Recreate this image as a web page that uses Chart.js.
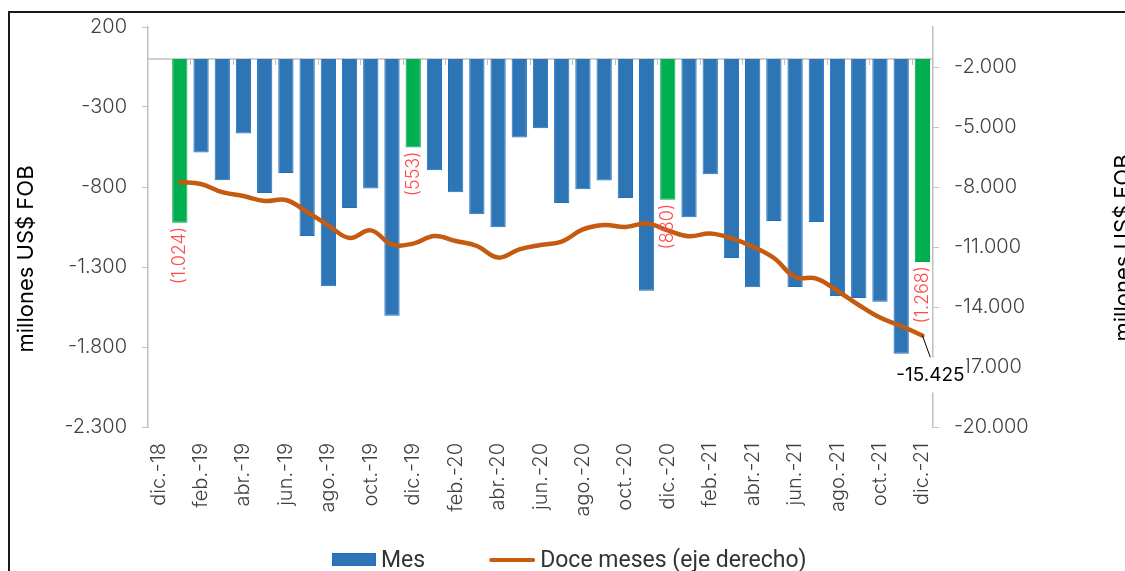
<!DOCTYPE html>
<html>
<head>
<meta charset="utf-8">
<script src="https://cdn.jsdelivr.net/npm/chart.js@4.4.0/dist/chart.umd.min.js"></script>
<style>
html, body { margin: 0; padding: 0; background: #fff; overflow: hidden; }
</style>
</head>
<body>
<canvas id="balanza" width="1125" height="571"></canvas>
<script>
var meses = [
    "dic.-18",
    "ene.-19", "feb.-19", "mar.-19", "abr.-19", "may.-19", "jun.-19", "jul.-19", "ago.-19", "sep.-19", "oct.-19", "nov.-19", "dic.-19",
    "ene.-20", "feb.-20", "mar.-20", "abr.-20", "may.-20", "jun.-20", "jul.-20", "ago.-20", "sep.-20", "oct.-20", "nov.-20", "dic.-20",
    "ene.-21", "feb.-21", "mar.-21", "abr.-21", "may.-21", "jun.-21", "jul.-21", "ago.-21", "sep.-21", "oct.-21", "nov.-21", "dic.-21"
];
var mensual = [null, -1024, -585, -758, -466, -837, -712, -1106, -1421, -931, -810, -1604, -553,
    -696, -833, -971, -1052, -491, -433, -900, -814, -760, -869, -1448, -880,
    -989, -721, -1244, -1427, -1012, -1425, -1019, -1481, -1494, -1517, -1842, -1268];
var doceMeses = [null, -7750, -7850, -8260, -8450, -8700, -8650, -9250, -9920, -10550, -10170, -10870, -10830,
    -10450, -10700, -10950, -11530, -11120, -10900, -10730, -10120, -9900, -10000, -9830, -10170,
    -10460, -10330, -10570, -10980, -11550, -12500, -12580, -13200, -13900, -14530, -14950, -15425];
var resaltados = [1, 12, 24, 36];
var ticksIzq = [-2300, -1800, -1300, -800, -300, 200];
var ticksDer = [-20000, -17000, -14000, -11000, -8000, -5000, -2000];

var azul = "#2e75b6";
var verde = "#00b050";
var naranja = "#c55a11";
var gris = "#bfbfbf";
var fuente = "Inter, 'Noto Sans', sans-serif";

var fmt = function (v) {
    var s = Math.abs(Math.round(v)).toString().replace(/\B(?=(\d{3})+(?!\d))/g, ".");
    return (v < 0 ? "-" : "") + s;
};

var coloresBarras = mensual.map(function (v, i) { return resaltados.indexOf(i) >= 0 ? verde : azul; });
var bordesBarras = mensual.map(function (v, i) { return resaltados.indexOf(i) >= 0 ? "#00a84a" : "#1c6fc2"; });

var extras = {
    id: "extras",
    beforeDraw: function (chart) {
        var ctx = chart.ctx;
        ctx.save();
        ctx.fillStyle = "#fff";
        ctx.fillRect(0, 0, chart.width, chart.height);
        ctx.strokeStyle = "#1a1a1a";
        ctx.lineWidth = 2;
        ctx.strokeRect(9, 12, chart.width + 20, chart.height + 20);
        ctx.restore();
    },
    beforeDatasetsDraw: function (chart) {
        var ctx = chart.ctx;
        var xs = chart.scales.x;
        var y0 = chart.scales.y.getPixelForValue(0);
        var area = chart.chartArea;
        ctx.save();
        ctx.strokeStyle = gris;
        ctx.lineWidth = 1.5;
        ctx.beginPath();
        ctx.moveTo(area.left, y0);
        ctx.lineTo(area.right, y0);
        ctx.stroke();
        ctx.lineWidth = 1;
        for (var n = 2; n < meses.length; n += 2) {
            var bx = Math.round((xs.getPixelForValue(n - 1) + xs.getPixelForValue(n)) / 2) + 0.5;
            ctx.beginPath();
            ctx.moveTo(bx, y0);
            ctx.lineTo(bx, y0 + 6);
            ctx.stroke();
        }
        ctx.restore();
    },
    afterDatasetsDraw: function (chart) {
        var ctx = chart.ctx;
        var barras = chart.getDatasetMeta(0).data;
        var puntos = chart.getDatasetMeta(1).data;
        ctx.save();
        // etiquetas rojas de diciembre
        ctx.fillStyle = "#ff4b4b";
        ctx.font = "300 18px " + fuente;
        ctx.textAlign = "right";
        ctx.textBaseline = "middle";
        resaltados.forEach(function (i) {
            var b = barras[i];
            ctx.save();
            ctx.translate(b.x, b.y + 4);
            ctx.rotate(-Math.PI / 2);
            ctx.fillText("(" + fmt(-mensual[i]) + ")", 0, 0);
            ctx.restore();
        });
        // último valor doce meses
        var last = doceMeses.length - 1;
        var p = puntos[last];
        ctx.strokeStyle = "#000";
        ctx.lineWidth = 1;
        ctx.beginPath();
        ctx.moveTo(p.x, p.y);
        ctx.lineTo(p.x + 8, p.y + 22);
        ctx.stroke();
        ctx.font = "19px " + fuente;
        var txt = fmt(doceMeses[last]);
        var w = ctx.measureText(txt).width;
        ctx.fillStyle = "#fff";
        ctx.fillRect(p.x + 8 - w / 2 - 2, p.y + 22, w + 4, 35);
        ctx.fillStyle = "#000";
        ctx.textAlign = "center";
        ctx.fillText(txt, p.x + 8, p.y + 40);
        ctx.restore();
    },
    afterDraw: function (chart) {
        var ctx = chart.ctx;
        var ds = chart.data.datasets;
        ctx.save();
        // títulos de ejes
        ctx.fillStyle = "#000";
        ctx.font = "22px " + fuente;
        ctx.textAlign = "center";
        ctx.textBaseline = "middle";
        [[26, 259], [1123, 248]].forEach(function (pos) {
            ctx.save();
            ctx.translate(pos[0], pos[1]);
            ctx.rotate(-Math.PI / 2);
            ctx.fillText("millones US$ FOB", 0, 0);
            ctx.restore();
        });
        // leyenda
        var ly = 560;
        var x = 332;
        ctx.font = "23px Roboto, sans-serif";
        ctx.textAlign = "left";
        ctx.fillStyle = azul;
        ctx.fillRect(x, ly - 7, 44, 13);
        ctx.strokeStyle = "#1c6fc2";
        ctx.lineWidth = 1;
        ctx.strokeRect(x + 0.5, ly - 6.5, 43, 12);
        x += 49;
        ctx.fillStyle = "#333";
        ctx.fillText(ds[0].label, x, ly + 1);
        x += ctx.measureText(ds[0].label).width + 64;
        ctx.strokeStyle = naranja;
        ctx.lineWidth = 4;
        ctx.lineCap = "round";
        ctx.beginPath();
        ctx.moveTo(x + 2, ly);
        ctx.lineTo(x + 44, ly);
        ctx.stroke();
        x += 51;
        ctx.fillText(ds[1].label, x, ly + 1);
        ctx.restore();
    }
};

var ctx = document.getElementById("balanza").getContext("2d");
var grafico = new Chart(ctx, {
    type: "bar",
    data: {
        labels: meses,
        datasets: [
            {
                label: "Mes",
                data: mensual,
                yAxisID: "y",
                backgroundColor: coloresBarras,
                borderColor: bordesBarras,
                borderWidth: 1,
                barPercentage: 0.72,
                categoryPercentage: 1,
                order: 2,
            },
            {
                type: "line",
                label: "Doce meses (eje derecho)",
                data: doceMeses,
                yAxisID: "y2",
                borderColor: naranja,
                borderWidth: 4.5,
                borderCapStyle: "round",
                tension: 0.4,
                pointRadius: 0,
                fill: false,
                order: 1,
            },
        ],
    },
    options: {
        responsive: false,
        devicePixelRatio: 1,
        animation: false,
        layout: { padding: { top: 26, left: 0, right: 0, bottom: 0 } },
        plugins: {
            legend: { display: false },
            tooltip: { enabled: false },
        },
        scales: {
            x: {
                offset: true,
                grid: { display: false, drawTicks: false },
                border: { display: false },
                ticks: {
                    autoSkip: false,
                    maxRotation: 90,
                    minRotation: 90,
                    padding: 16,
                    color: "#404040",
                    font: { family: fuente, size: 20, weight: 300 },
                    callback: function (value, index) { return index % 2 === 0 ? meses[index] : ""; },
                },
                afterFit: function (scale) { scale.height = 144; },
            },
            y: {
                position: "left",
                min: -2300,
                max: 200,
                afterBuildTicks: function (scale) { scale.ticks = ticksIzq.map(function (v) { return { value: v }; }); },
                grid: { drawOnChartArea: false, drawTicks: true, tickLength: 6, color: gris },
                border: { display: true, color: gris, width: 1.5 },
                ticks: {
                    padding: 15,
                    color: "#404040",
                    font: { family: fuente, size: 20, weight: 300 },
                    callback: function (value) { return fmt(value); },
                },
                afterFit: function (scale) { scale.width = 148; },
            },
            y2: {
                position: "right",
                min: -20000,
                max: 0,
                afterBuildTicks: function (scale) { scale.ticks = ticksDer.map(function (v) { return { value: v }; }); },
                grid: { drawOnChartArea: false, drawTicks: true, tickLength: 6, color: gris },
                border: { display: true, color: gris, width: 1.5 },
                ticks: {
                    padding: 15,
                    color: "#404040",
                    font: { family: fuente, size: 20, weight: 300 },
                    callback: function (value) { return fmt(value); },
                },
                afterFit: function (scale) { scale.width = 192; },
            },
        },
    },
    plugins: [extras],
});
</script>
</body>
</html>
